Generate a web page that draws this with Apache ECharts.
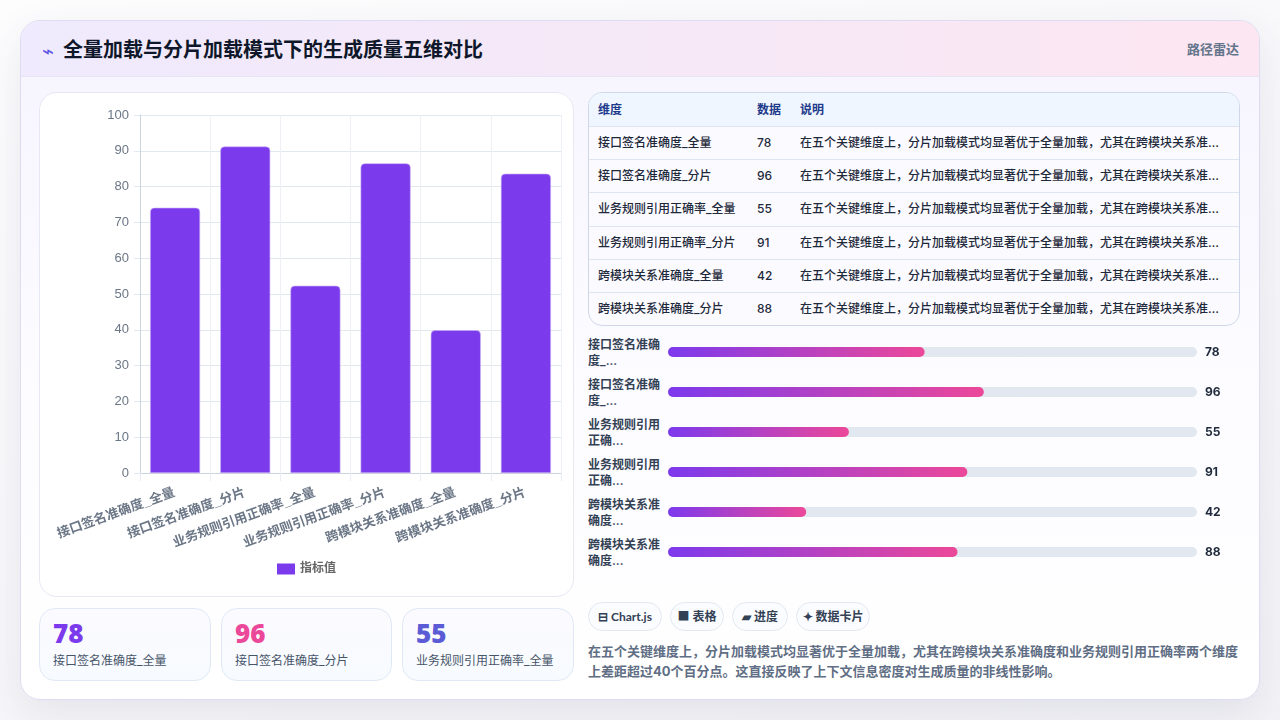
<!DOCTYPE html>
<html lang="zh"><head><meta charset="utf-8">
<script src="https://cdn.jsdelivr.net/npm/echarts@6/dist/echarts.min.js"></script>
<style>
*{box-sizing:border-box;margin:0;padding:0}
html,body{width:1280px;height:720px;overflow:hidden;background:linear-gradient(160deg,#fdfdfe,#f3f3f7);font-family:Inter,"Noto Sans CJK SC",sans-serif;color:#0f172a}
#card{position:absolute;left:20px;top:20px;width:1240px;height:680px;border-radius:20px;border:1px solid #dddcf2;overflow:hidden;background:linear-gradient(180deg,#f6f4fe 0%,#fcfbff 50%,#fff 100%);}
#shadow{position:absolute;left:20px;top:20px;width:1240px;height:680px;border-radius:20px;box-shadow:0 14px 40px rgba(60,60,100,.10)}
#head{position:absolute;left:0;top:0;width:100%;height:55.5px;background:linear-gradient(90deg,#efeafd,#fce6f1);border-bottom:1px solid #e6e5f4}
#title{position:absolute;left:42px;top:14px;font-size:20px;font-weight:700;line-height:30px;color:#0f172a;white-space:nowrap}
#icon{position:absolute;left:21px;top:15px;font-size:20px;color:#5a55e0;line-height:30px;font-weight:400}
#tag{position:absolute;right:20px;top:18px;font-size:13px;font-weight:700;color:#64748b;line-height:20px}
#panel{position:absolute;left:18px;top:71px;width:535px;height:505px;border-radius:18px;background:#fff;border:1px solid #e6e8f4}
#bars{position:absolute;left:0;top:0;width:533px;height:503px}
.stat{position:absolute;top:587px;height:73px;border-radius:16px;border:1px solid #dfe9f5;background:linear-gradient(180deg,#fbfaff,#f7fbff)}
.stat b{position:absolute;left:13px;top:7px;font-size:26px;font-weight:900;line-height:34px;font-family:"Noto Sans",sans-serif}
.stat span{position:absolute;left:13px;top:42px;font-size:12px;color:#475569;line-height:20px;white-space:nowrap}
#tbl{position:absolute;left:567px;top:71px;width:652px;height:234px;border-radius:14px;border:1px solid #cfd8e8;overflow:hidden;background:#fbfbff}
.row{position:absolute;left:0;width:100%;height:33.2px;border-top:1px solid #dfe5f0;font-size:12px;line-height:32px;color:#1e293b;font-weight:500}
.row.h{top:0;border-top:0;background:#eff6ff;color:#1e3a8a;font-weight:700;height:33px;line-height:34px}
.row span{position:absolute;top:0;white-space:nowrap}
#prog{position:absolute;left:640px;top:311px;width:580px;height:240px}
.pl{position:absolute;left:567px;width:76px;font-size:12px;font-weight:600;line-height:16px;color:#334155;height:32px;overflow:hidden}
.chip{position:absolute;top:581px;height:29px;border-radius:15px;border:1px solid #e2e8f0;background:#fbfcff;font-family:Lato,"Noto Sans CJK SC",sans-serif;font-size:12px;font-weight:700;line-height:27px;color:#334155;text-align:center;white-space:nowrap}
#note{position:absolute;left:567px;top:620px;width:652px;font-size:13px;font-weight:700;line-height:20px;color:#5f6e84}
</style></head><body>
<div id="shadow"></div>
<div id="card">
<div id="head"><div id="icon"></div><div id="title"></div><div id="tag"></div></div>
<div id="panel"><div id="bars"></div></div>
<div id="stats"></div>
<div id="tbl"></div>
<div id="plabels"></div>
<div id="prog"></div>
<div id="chips"></div>
<div id="note"></div>
</div>
<script>
const titleText = "全量加载与分片加载模式下的生成质量五维对比";
const tagText = "路径雷达";
const categories = ["接口签名准确度_全量","接口签名准确度_分片","业务规则引用正确率_全量","业务规则引用正确率_分片","跨模块关系准确度_全量","跨模块关系准确度_分片"];
const barHeights = [74.1,91.2,52.3,86.5,39.9,83.6];
const tableValues = [78,96,55,91,42,88];
const tableNote = "在五个关键维度上，分片加载模式均显著优于全量加载，尤其在跨模块关系准…";
const tableHead = ["维度","数据","说明"];
const progressLabels = ["接口签名准确<br>度_...","接口签名准确<br>度_...","业务规则引用<br>正确...","业务规则引用<br>正确...","跨模块关系准<br>确度...","跨模块关系准<br>确度..."];
const statColors = ["#7c3aed","#ec4899","#5b5bd6"];
const chipTexts = ["⊟ Chart.js","■ 表格","▰ 进度","✦ 数据卡片"];
const noteText = "在五个关键维度上，分片加载模式均显著优于全量加载，尤其在跨模块关系准确度和业务规则引用正确率两个维度上差距超过40个百分点。这直接反映了上下文信息密度对生成质量的非线性影响。";
const el = id => document.getElementById(id);
el("icon").textContent = "⌁"; el("title").textContent = titleText; el("tag").textContent = tagText;
el("note").textContent = noteText;
const statLeft=[18,200,381], statW=[172,171,172];
el("stats").innerHTML = statColors.map((c,i)=>`<div class="stat" style="left:${statLeft[i]}px;width:${statW[i]}px"><b style="color:${c}">${tableValues[i]}</b><span>${categories[i]}</span></div>`).join("");
let t = `<div class="row h"><span style="left:9px">${tableHead[0]}</span><span style="left:168px">${tableHead[1]}</span><span style="left:211px">${tableHead[2]}</span></div>`;
categories.forEach((c,i)=>{t+=`<div class="row" style="top:${33+i*33.2}px"><span style="left:9px">${c}</span><span style="left:168px">${tableValues[i]}</span><span style="left:211px">${tableNote}</span></div>`});
el("tbl").innerHTML=t;
el("plabels").innerHTML=progressLabels.map((p,i)=>`<div class="pl" style="top:${316+i*40}px">${p}</div>`).join("");
const chipLeft=[567,649,711,775], chipW=[74,54,56,74];
el("chips").innerHTML=chipTexts.map((c,i)=>`<div class="chip" style="left:${chipLeft[i]}px;width:${chipW[i]}px">${c}</div>`).join("");

const bars = echarts.init(el("bars"),null,{renderer:"canvas"});
bars.setOption({
 animation:false,
 legend:{show:true,top:465,left:"center",itemWidth:18,itemHeight:11,itemGap:6,icon:"rect",itemStyle:{borderWidth:0},textStyle:{color:"#666",fontSize:12,fontWeight:600,fontFamily:"Liberation Sans,Noto Sans CJK SC"},data:["指标值"]},
 grid:{left:100,right:12,top:22,bottom:123,containLabel:false},
 xAxis:{type:"category",data:categories,
  axisLine:{lineStyle:{color:"#cbd5e1"}},
  axisTick:{show:true,length:8,lineStyle:{color:"#e9edf3"}},
  splitLine:{show:true,lineStyle:{color:"#edf1f6"}},
  axisLabel:{interval:0,rotate:20,margin:12,padding:[0,3,0,0],color:"#6b7686",fontSize:13,fontWeight:700,fontFamily:"Liberation Sans,Noto Sans CJK SC",align:"right",verticalAlign:"top"}},
 yAxis:{type:"value",min:0,max:100,interval:10,
  axisLine:{show:true,lineStyle:{color:"#cbd5e1"}},
  axisTick:{show:true,length:6,lineStyle:{color:"#e2e8f0"}},
  splitLine:{lineStyle:{color:"#e2e8f0"}},
  axisLabel:{color:"#6b7686",fontSize:13,margin:11,fontFamily:"Liberation Sans"}},
 series:[{name:"指标值",type:"bar",data:barHeights,barWidth:50,itemStyle:{color:"#7c3aed",borderColor:"#c9b0f4",borderWidth:0.6,borderRadius:[4,4,0,0]}}]
});
const prog = echarts.init(el("prog"),null,{renderer:"canvas"});
prog.setOption({
 animation:false,
 grid:{left:7,right:44,top:0,bottom:0},
 xAxis:{type:"value",min:0,max:160.8,show:false},
 yAxis:{type:"category",inverse:true,position:"right",data:tableValues,axisLine:{show:false},axisTick:{show:false},
  axisLabel:{margin:8,color:"#1e293b",fontWeight:700,fontSize:12,fontFamily:"Inter"}},
 series:[{type:"bar",data:tableValues,barWidth:10,showBackground:true,backgroundStyle:{color:"#e2e8f0",borderRadius:5},
  itemStyle:{borderRadius:5,color:new echarts.graphic.LinearGradient(0,0,1,0,[{offset:0,color:"#7c3aed"},{offset:1,color:"#ec4899"}])}}]
});
</script></body></html>
